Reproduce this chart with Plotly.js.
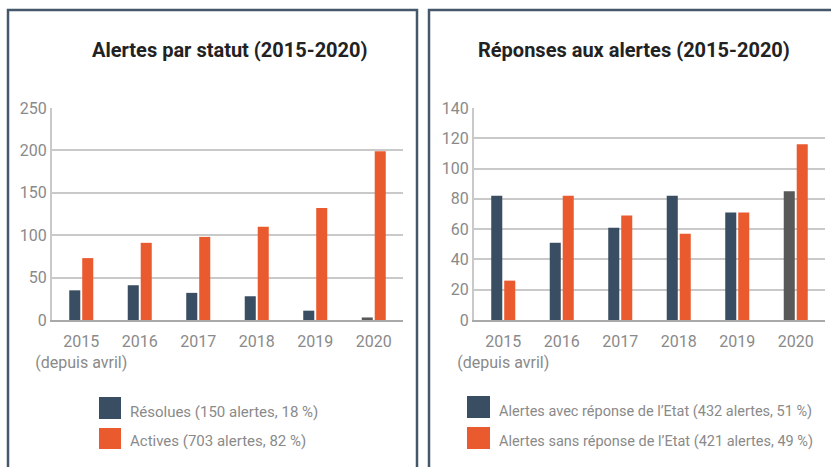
<!DOCTYPE html>
<html>
<head>
<meta charset="utf-8">
<script src="https://cdn.plot.ly/plotly-3.0.1.min.js"></script>
<style>
html,body{margin:0;padding:0;background:#fff;}
#chart{width:831px;height:467px;}
</style>
</head>
<body>
<div id="chart"></div>
<script>
// ---- data ----
const years = ["2015", "2016", "2017", "2018", "2019", "2020"];
const yearLabels = ["2015<br>(depuis avril)", "2016", "2017", "2018", "2019", "2020"];

const titleLeft = "Alertes par statut (2015-2020)";
const resolvedName = "Résolues (150 alertes, 18 %)";
const activeName = "Actives (703 alertes, 82 %)";
const resolved = [35, 41, 32, 28, 11, 3];
const active = [73, 91, 98, 110, 132, 199];

const titleRight = "Réponses aux alertes (2015-2020)";
const withName = "Alertes avec réponse de l’Etat (432 alertes, 51 %)";
const withoutName = "Alertes sans réponse de l’Etat (421 alertes, 49 %)";
const withResp = [82, 51, 61, 82, 71, 85];
const withoutResp = [26, 82, 69, 57, 71, 116];

// ---- styles ----
const DARK = "#3a4e63", ORANGE = "#ea5a2f", GREY = "#595959";
const darkColors = years.map(y => y === "2020" ? GREY : DARK);
const FONT = "Roboto, 'Liberation Sans', sans-serif";
const TICKCOL = "#8a8a8a";

const W = 831, H = 467;
const px = x => x / W;
const py = y => 1 - y / H;

const traces = [
  {type: "bar", x: years, y: resolved, name: resolvedName, marker: {color: darkColors}, xaxis: "x", yaxis: "y", hoverinfo: "x+y"},
  {type: "bar", x: years, y: active, name: activeName, marker: {color: ORANGE}, xaxis: "x", yaxis: "y", hoverinfo: "x+y"},
  {type: "bar", x: years, y: withResp, name: withName, marker: {color: darkColors}, xaxis: "x2", yaxis: "y2", hoverinfo: "x+y"},
  {type: "bar", x: years, y: withoutResp, name: withoutName, marker: {color: ORANGE}, xaxis: "x2", yaxis: "y2", hoverinfo: "x+y"}
];

function xa(domain, anchor) {
  return {
    domain: domain, anchor: anchor, type: "category",
    tickvals: years, ticktext: yearLabels, tickangle: 0,
    showgrid: false, zeroline: false,
    showline: true, linecolor: "#a9a9a9", linewidth: 2,
    ticks: "", ticklabelstandoff: 6,
    tickfont: {family: FONT, size: 16, color: TICKCOL},
    fixedrange: true
  };
}
function ya(domain, anchor, range, dtick) {
  return {
    domain: domain, anchor: anchor, range: range, dtick: dtick,
    showgrid: true, gridcolor: "#c9c9c9", gridwidth: 2,
    zeroline: false,
    showline: true, linecolor: "#c9c9c9", linewidth: 2,
    ticks: "", ticklabelstandoff: 0,
    tickfont: {family: FONT, size: 16, color: TICKCOL},
    fixedrange: true
  };
}

const shapes = [
  {type: "rect", xref: "paper", yref: "paper", x0: px(8), x1: px(417), y0: py(480), y1: py(10), line: {color: "#44576b", width: 2.5}},
  {type: "rect", xref: "paper", yref: "paper", x0: px(429), x1: px(845), y0: py(480), y1: py(10), line: {color: "#44576b", width: 2.5}},
  {type: "rect", xref: "paper", yref: "paper", x0: px(99), x1: px(121), y0: py(419), y1: py(397), fillcolor: DARK, line: {width: 0}},
  {type: "rect", xref: "paper", yref: "paper", x0: px(99), x1: px(121), y0: py(449), y1: py(428), fillcolor: ORANGE, line: {width: 0}},
  {type: "rect", xref: "paper", yref: "paper", x0: px(467), x1: px(490), y0: py(418), y1: py(396), fillcolor: DARK, line: {width: 0}},
  {type: "rect", xref: "paper", yref: "paper", x0: px(467), x1: px(490), y0: py(449), y1: py(427), fillcolor: ORANGE, line: {width: 0}}
];

function ann(text, x, y, size, color, bold, xanchor) {
  return {text: bold ? "<b>" + text + "</b>" : text, xref: "paper", yref: "paper",
    x: px(x), y: py(y), xanchor: xanchor, yanchor: "middle", showarrow: false,
    font: {family: FONT, size: size, color: color}};
}

const annotations = [
  ann(titleLeft, 230, 50, 20, "#222222", true, "center"),
  ann(titleRight, 634, 50, 20, "#222222", true, "center"),
  ann(resolvedName, 128, 412, 15, TICKCOL, false, "left"),
  ann(activeName, 128, 441, 15, TICKCOL, false, "left"),
  ann(withName, 497, 411, 14.5, TICKCOL, false, "left"),
  ann(withoutName, 497, 441, 14.5, TICKCOL, false, "left")
];

const layout = {
  width: W, height: H,
  margin: {l: 0, r: 0, t: 0, b: 0},
  paper_bgcolor: "#ffffff", plot_bgcolor: "#ffffff",
  showlegend: false,
  barmode: "group", bargap: 0.556, bargroupgap: 0.15,
  xaxis: xa([px(52), px(403)], "y"),
  yaxis: ya([py(320), py(108)], "x", [0, 250], 50),
  xaxis2: xa([px(474), px(825)], "y2"),
  yaxis2: ya([py(320), py(108)], "x2", [0, 140], 20),
  shapes: shapes,
  annotations: annotations,
  font: {family: FONT}
};

Plotly.newPlot("chart", traces, layout, {displayModeBar: false, staticPlot: true});
</script>
</body>
</html>
